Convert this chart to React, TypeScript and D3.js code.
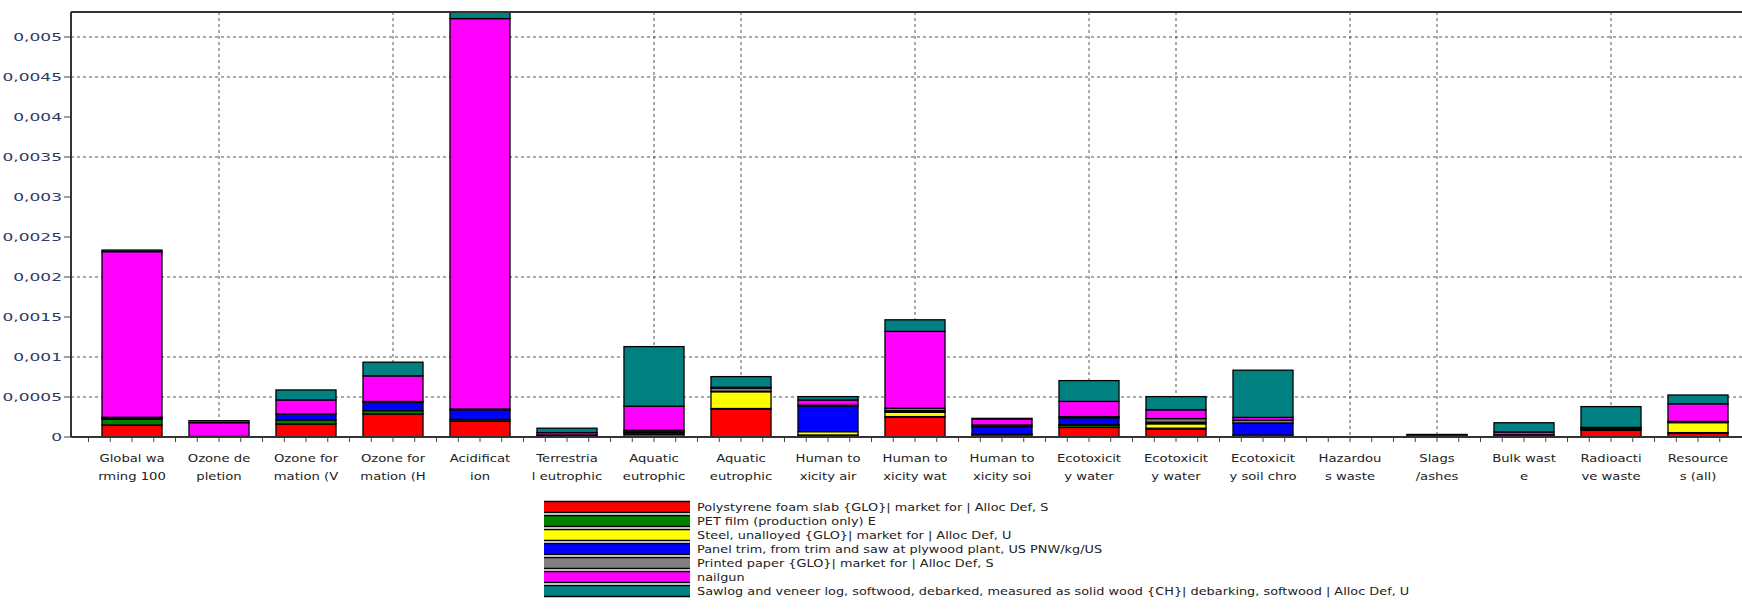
import React from 'react';
import * as d3 from 'd3';

const W = 1742;
const H = 614;

// Category labels as wrapped in the chart (line 1, line 2)
const categoryLine1 = [
  'Global wa', 'Ozone de', 'Ozone for', 'Ozone for', 'Acidificat', 'Terrestria',
  'Aquatic', 'Aquatic', 'Human to', 'Human to', 'Human to', 'Ecotoxicit',
  'Ecotoxicit', 'Ecotoxicit', 'Hazardou', 'Slags', 'Bulk wast', 'Radioacti', 'Resource',
];
const categoryLine2 = [
  'rming 100', 'pletion', 'mation (V', 'mation (H', 'ion', 'l eutrophic',
  'eutrophic', 'eutrophic', 'xicity air', 'xicity wat', 'xicity soi', 'y water',
  'y water', 'y soil chro', 's waste', '/ashes', 'e', 've waste', 's (all)',
];

const seriesNames = [
  'Polystyrene foam slab {GLO}| market for | Alloc Def, S',
  'PET film (production only) E',
  'Steel, unalloyed {GLO}| market for | Alloc Def, U',
  'Panel trim, from trim and saw at plywood plant, US PNW/kg/US',
  'Printed paper {GLO}| market for | Alloc Def, S',
  'nailgun',
  'Sawlog and veneer log, softwood, debarked, measured as solid wood {CH}| debarking, softwood | Alloc Def, U',
];
const seriesColors = ['#ff0000', '#008000', '#ffff00', '#0000ff', '#808080', '#ff00ff', '#008080'];

const polystyrene = [1.5e-4, 0.02e-4, 1.63e-4, 2.88e-4, 2.0e-4, 0.02e-4, 0.35e-4, 3.46e-4, 0.05e-4, 2.5e-4, 0.05e-4, 1.2e-4, 1.0e-4, 0.02e-4, 0, 0.02e-4, 0.03e-4, 0.85e-4, 0.45e-4];
const petFilm = [0.75e-4, 0, 0.5e-4, 0.42e-4, 0.2e-4, 0.03e-4, 0.2e-4, 0.1e-4, 0.2e-4, 0.05e-4, 0.25e-4, 0.3e-4, 0.1e-4, 0.03e-4, 0, 0, 0, 0.1e-4, 0.1e-4];
const steel = [0.02e-4, 0, 0, 0, 0, 0, 0, 2.1e-4, 0.42e-4, 0.55e-4, 0.05e-4, 0.05e-4, 0.55e-4, 0.2e-4, 0, 0, 0, 0, 1.25e-4];
const panelTrim = [0.05e-4, 0, 0.75e-4, 1.04e-4, 1.2e-4, 0.1e-4, 0.1e-4, 0.05e-4, 3.21e-4, 0.2e-4, 0.95e-4, 0.85e-4, 0.2e-4, 1.5e-4, 0, 0, 0.05e-4, 0.05e-4, 0.05e-4];
const printedPaper = [0.15e-4, 0.05e-4, 0, 0.1e-4, 0.1e-4, 0.1e-4, 0.2e-4, 0.4e-4, 0.1e-4, 0.3e-4, 0.2e-4, 0.15e-4, 0.45e-4, 0.35e-4, 0, 0, 0.2e-4, 0.15e-4, 0.1e-4];
const nailgun = [20.7e-4, 1.72e-4, 1.75e-4, 3.2e-4, 48.8e-4, 0.3e-4, 3.0e-4, 0.1e-4, 0.65e-4, 9.6e-4, 0.75e-4, 1.9e-4, 1.1e-4, 0.35e-4, 0, 0.25e-4, 0.35e-4, 0.05e-4, 2.2e-4];
const sawlog = [0.2e-4, 0.25e-4, 1.25e-4, 1.71e-4, 0.8e-4, 0.55e-4, 7.45e-4, 1.34e-4, 0.42e-4, 1.45e-4, 0.08e-4, 2.6e-4, 1.65e-4, 5.9e-4, 0, 0.05e-4, 1.15e-4, 2.6e-4, 1.1e-4];

const seriesValues = [polystyrene, petFilm, steel, panelTrim, printedPaper, nailgun, sawlog];

const yTickValues = [0, 0.0005, 0.001, 0.0015, 0.002, 0.0025, 0.003, 0.0035, 0.004, 0.0045, 0.005];
const yTickLabels = ['0', '0,0005', '0,001', '0,0015', '0,002', '0,0025', '0,003', '0,0035', '0,004', '0,0045', '0,005'];
// grid lines that survive in the (resampled) reference
const yGridValues = [0.0005, 0.001, 0.002, 0.0035, 0.0045, 0.005];
const xGridCategories = [1, 3, 6, 7, 9, 11, 12, 14, 15, 17];

const PLOT_LEFT = 71;
const PLOT_TOP = 12;
const PLOT_BOTTOM = 437;
const PLOT_RIGHT = 1745;

export default function App() {
  const keys = seriesNames.map((_, i) => 's' + i);
  const table = categoryLine1.map((_, ci) => {
    const row: Record<string, number> = { idx: ci };
    keys.forEach((k, si) => (row[k] = seriesValues[si][ci]));
    return row;
  });
  const stacked = d3.stack<Record<string, number>>().keys(keys)(table);

  const x = d3
    .scaleBand<number>()
    .domain(table.map((d) => d.idx))
    .range([88.5, 1741.5])
    .paddingInner(0.31)
    .paddingOuter(0.155);
  const y = d3.scaleLinear().domain([0, 0.0053125]).range([PLOT_BOTTOM, PLOT_TOP]);

  const step = x.step();
  const center = (i: number) => (x(i) as number) + x.bandwidth() / 2;

  const xMinorTicks: number[] = [];
  for (let k = -2; k <= 18 * 4 + 1; k++) {
    const px = center(0) + (k * step) / 4;
    if (px > PLOT_LEFT + 2 && px < W) xMinorTicks.push(px);
  }

  const font = "'DejaVu Sans', Verdana, sans-serif";
  const legendTop = 507;
  const legendStep = 14;

  return (
    <svg width={W} height={H} style={{ position: 'absolute', left: 0, top: 0, background: '#fff' }}>
      <rect x={0} y={0} width={W} height={H} fill="#fff" />
      {/* horizontal grid */}
      {yGridValues.map((v) => (
        <line key={'hg' + v} x1={PLOT_LEFT} x2={PLOT_RIGHT} y1={y(v)} y2={y(v)} stroke="#555" strokeWidth={1} strokeDasharray="3 3" />
      ))}
      {/* vertical grid */}
      {xGridCategories.map((c) => (
        <line key={'vg' + c} x1={center(c)} x2={center(c)} y1={PLOT_TOP} y2={PLOT_BOTTOM} stroke="#555" strokeWidth={1} strokeDasharray="3 3" />
      ))}
      {/* bars */}
      {stacked.map((layer, si) => (
        <g key={layer.key} fill={seriesColors[si]} stroke="#000" strokeWidth={1.3}>
          {layer.map((seg, ci) => {
            const h = y(seg[0]) - y(seg[1]);
            if (!(seg[1] - seg[0] > 0)) return null;
            return <rect key={ci} x={x(ci) as number} y={y(seg[1])} width={x.bandwidth()} height={h} />;
          })}
        </g>
      ))}
      {/* frame */}
      <line x1={PLOT_LEFT} x2={PLOT_LEFT} y1={PLOT_TOP} y2={PLOT_BOTTOM} stroke="#333" strokeWidth={2} />
      <line x1={PLOT_LEFT} x2={PLOT_RIGHT} y1={PLOT_TOP} y2={PLOT_TOP} stroke="#333" strokeWidth={2} />
      <line x1={PLOT_LEFT} x2={PLOT_RIGHT} y1={PLOT_BOTTOM} y2={PLOT_BOTTOM} stroke="#333" strokeWidth={2} />
      {/* y ticks & labels */}
      {yTickValues.map((v, i) => (
        <g key={'yt' + i}>
          <line x1={64} x2={PLOT_LEFT} y1={y(v)} y2={y(v)} stroke="#444" strokeWidth={1} />
          <text
            transform={`translate(62,${y(v) + 4}) scale(1.55,1)`}
            textAnchor="end"
            fontFamily={font}
            fontSize={11}
            fill="#2f3b66"
          >
            {yTickLabels[i]}
          </text>
        </g>
      ))}
      {/* x minor ticks */}
      {xMinorTicks.map((px, i) => (
        <line key={'xt' + i} x1={px} x2={px} y1={PLOT_BOTTOM} y2={PLOT_BOTTOM + 5} stroke="#444" strokeWidth={1} />
      ))}
      {/* x labels */}
      {categoryLine1.map((l1, i) => (
        <g key={'xl' + i} fontFamily={font} fontSize={11} fill="#222">
          <text transform={`translate(${center(i)},462) scale(1.2,1)`} textAnchor="middle">
            {l1}
          </text>
          <text transform={`translate(${center(i)},480) scale(1.2,1)`} textAnchor="middle">
            {categoryLine2[i]}
          </text>
        </g>
      ))}
      {/* legend */}
      {seriesNames.map((name, i) => {
        const cy = legendTop + i * legendStep;
        return (
          <g key={'lg' + i}>
            <rect x={544} y={cy - 5} width={146} height={10} fill={seriesColors[i]} />
            <line x1={544} x2={690} y1={cy - 5.5} y2={cy - 5.5} stroke="#000" strokeWidth={1.5} />
            <line x1={544} x2={690} y1={cy + 5.5} y2={cy + 5.5} stroke="#000" strokeWidth={1.5} />
            <text
              transform={`translate(697,${cy + 4}) scale(1.17,1)`}
              fontFamily={font}
              fontSize={11}
              fill="#222"
            >
              {name}
            </text>
          </g>
        );
      })}
    </svg>
  );
}
